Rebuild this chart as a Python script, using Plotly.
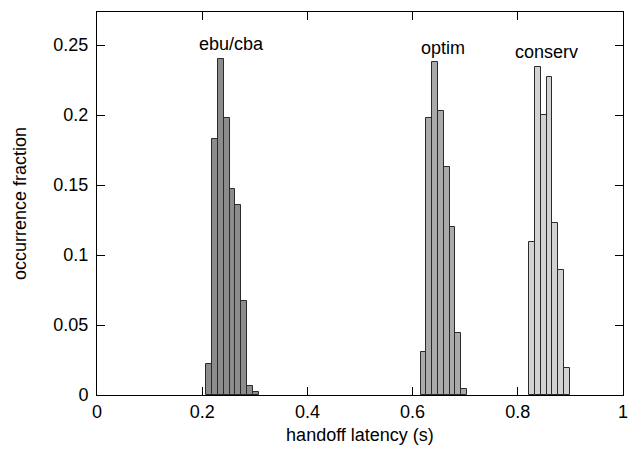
import plotly.graph_objects as go

BIN_W = 0.011

ebu_x = [0.2136, 0.2246, 0.2356, 0.2466, 0.2576, 0.2686, 0.2796, 0.2906, 0.3016]
ebu_y = [0.022, 0.183, 0.240, 0.198, 0.147, 0.136, 0.067, 0.0065, 0.002]

optim_x = [0.6207, 0.6317, 0.6427, 0.6537, 0.6647, 0.6757, 0.6867, 0.6977]
optim_y = [0.031, 0.198, 0.238, 0.203, 0.163, 0.120, 0.044, 0.004]

conserv_x = [0.8272, 0.8382, 0.8492, 0.8602, 0.8712, 0.8822, 0.8932]
conserv_y = [0.109, 0.234, 0.200, 0.227, 0.123, 0.089, 0.019]

labels = ["ebu/cba", "optim", "conserv"]
label_x = [0.255, 0.6575, 0.855]
label_y = [0.2507, 0.248, 0.245]

x_ticks = [0, 0.2, 0.4, 0.6, 0.8, 1]
x_ticktext = ["0", "0.2", "0.4", "0.6", "0.8", "1"]
y_ticks = [0, 0.05, 0.1, 0.15, 0.2, 0.25]
y_ticktext = ["0", "0.05", "0.1", "0.15", "0.2", "0.25"]

FONT = "Liberation Sans, Arial, Helvetica, sans-serif"

fig = go.Figure()
for xs, ys, col in [(ebu_x, ebu_y, "#8c8c8c"), (optim_x, optim_y, "#aaaaaa"), (conserv_x, conserv_y, "#d2d2d2")]:
    fig.add_trace(go.Bar(x=xs, y=ys, width=[BIN_W] * len(xs),
                         marker=dict(color=col, line=dict(color="#2a2a2a", width=1)),
                         showlegend=False))

for t, x, y in zip(labels, label_x, label_y):
    fig.add_annotation(x=x, y=y, text=t, showarrow=False, xref="x", yref="y",
                       font=dict(family=FONT, size=18, color="black"))

axis_common = dict(showline=True, linecolor="black", linewidth=1, mirror="ticks",
                   ticks="inside", ticklen=8, tickcolor="black", showgrid=False,
                   zeroline=False, tickfont=dict(family=FONT, size=18, color="black"))

fig.update_xaxes(range=[0, 1], tickvals=x_ticks, ticktext=x_ticktext,
                 title=dict(text="handoff latency (s)", font=dict(family=FONT, size=18, color="black"), standoff=7),
                 **axis_common)
fig.update_yaxes(range=[0, 0.2736], tickvals=y_ticks, ticktext=y_ticktext,
                 ticklabelstandoff=4,
                 title=dict(text="occurrence fraction", font=dict(family=FONT, size=18, color="black"), standoff=22),
                 **axis_common)

fig.update_layout(width=641, height=456, margin=dict(l=97, r=18, t=12, b=61),
                  plot_bgcolor="white", paper_bgcolor="white", bargap=0,
                  font=dict(family=FONT, color="black"))

fig.write_html("out.html", config={"displayModeBar": False},
               post_script="document.body.style.margin='0';document.body.style.overflow='hidden';")
